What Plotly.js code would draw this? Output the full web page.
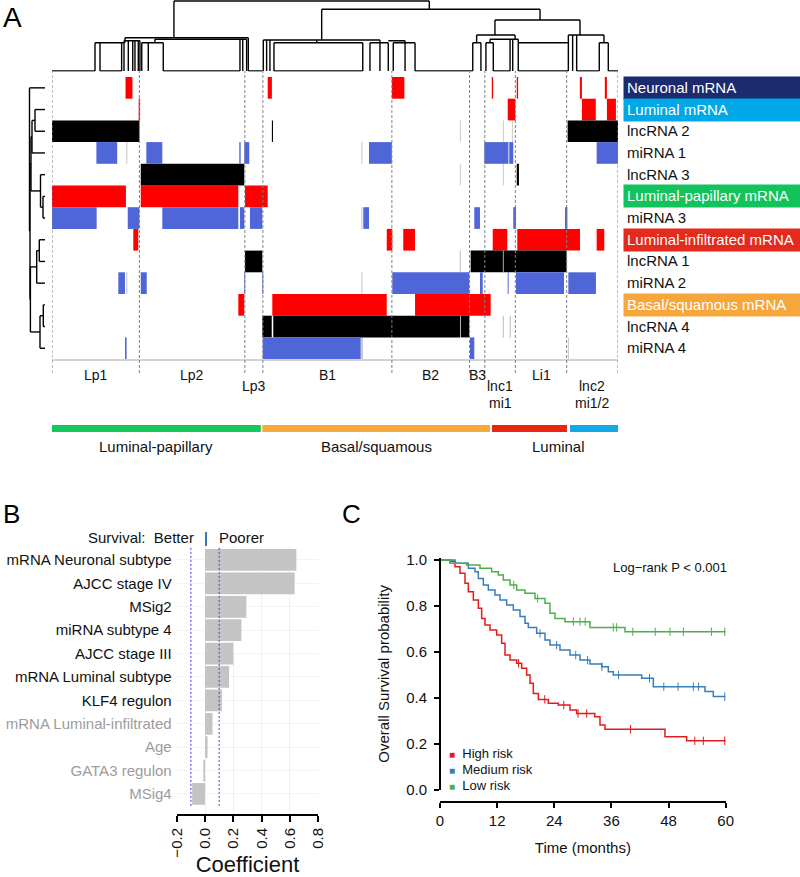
<!DOCTYPE html>
<html><head><meta charset="utf-8">
<script src="https://cdn.plot.ly/plotly-3.0.1.min.js"></script>
<style>html,body{margin:0;padding:0;background:#fff}</style>
</head><body><div id="chart" style="width:800px;height:877px"></div>
<script>
// ================= DATA =================
// ---- Panel A: clustered heatmap ----
const nSamples = 408;
const rowNames = ['Neuronal mRNA','Luminal mRNA','lncRNA 2','miRNA 1','lncRNA 3','Luminal-papillary mRNA','miRNA 3',
  'Luminal-infiltrated mRNA','lncRNA 1','miRNA 2','Basal/squamous mRNA','lncRNA 4','miRNA 4'];
const rowLabelBg = ['#1c2a6e','#00a8e8',null,null,null,'#12c35d',null,'#e4291d',null,null,'#f6a63b',null,null];

// segments: [row index, start sample, end sample]
const redSegments = [
  [0,53,58],[0,155.5,158.5],[0,245,254],[0,317,318],[0,335,336],[0,380.5,382],[0,398.5,400],
  [1,62.5,63.5],[1,328.5,334],[1,382,392],[1,400,406.5],
  [5,0,53.3],[5,64,134.3],[5,139.1,155.5],
  [7,58.6,62.2],[7,241.3,245.3],[7,253.2,261.7],[7,317.7,328.2],[7,335.4,380.6],[7,392.6,398.1],
  [10,134.3,138.6],[10,158.8,241.3],[10,261.7,316.2]
];
const blackSegments = [
  [2,0,63],[2,158.5,159.3],[2,371.7,408],
  [4,64,138.6],[4,335,336.6],
  [8,139.1,151.6],[8,301.8,371],
  [11,151.6,158.4],[11,159.5,294.1],[11,294.6,300.8]
];
const blueSegments = [
  [3,32,47],[3,68,79.5],[3,135,136],[3,138.6,142.2],[3,228.5,245],[3,311.6,329],[3,329.6,332.5],[3,392.6,408],
  [6,0,32.2],[6,54.6,63],[6,79.5,134.3],[6,135.5,138.6],[6,142.7,151.6],[6,224.4,228.5],[6,304.4,308.5],[6,332.5,334.5],[6,369.8,371.5],
  [9,47.8,52.6],[9,64,68.3],[9,138.6,139.3],[9,151.6,152.3],[9,245.3,300.8],[9,308.5,310.5],[9,328.5,329.2],[9,334.5,369.1],[9,372.2,392.1],
  [12,52.6,53.8],[12,151.9,222.5],[12,301.3,304.4]
];
const graySegments = [
  [2,294,294.7],[2,325,325.7],[2,331.5,332.2],
  [3,53.5,54.3],[3,223,223.8],
  [4,294,294.7],[4,325,325.7],
  [6,223,223.8],
  [8,294,294.7],[8,325,325.6],
  [9,53.5,54.3],[9,223,223.8],
  [11,325,325.7],[11,330,330.7],
  [12,222.5,224.2],[12,372,372.7]
];

// clusters
const clusterBoundaries = [0,63,139,152,245,301,312,334,371,408];
const clusterLabel1 = ['Lp1','Lp2','Lp3','B1','B2','B3','lnc1','Li1','lnc2'];
const clusterLabel2 = ['','','','','','','mi1','','mi1/2'];
const clusterLowered = [false,false,true,false,false,false,true,false,true];

// mRNA subtype bar
const subtypeNames = ['Luminal-papillary','Basal/squamous','Luminal-infiltrated','Luminal'];
const subtypeStart = [0,151.6,317.2,373.4];
const subtypeEnd = [150.5,315.7,371.2,408];
const subtypeColors = ['#16c75d','#f8a93c','#e8250f','#13a8e8'];
const subtypeTextGroups = [['Luminal-papillary',0,150.5],['Basal/squamous',151.6,315.7],['Luminal',322,408]];

// column dendrogram segments [x0,h0,x1,h1] (x in samples, h = merge height)
const colDendro = [
  [87.9,70,272.0,70],[87.9,70,87.9,33.3],[272.0,70,272.0,61.7],
  [52.6,33.3,141.5,33.3],[52.6,33.3,52.6,28.3],[31.0,28.3,51.9,28.3],
  [31.0,28.3,31.0,0],[34.6,28.3,34.6,0],[50.2,28.3,50.2,0],
  [51.9,30.3,63.4,30.3],[51.9,30.3,51.9,0],[55.0,30.3,55.0,0],[58.2,30.3,58.2,0],[59.8,30.3,59.8,0],[62.2,30.3,62.2,0],[63.4,30.3,63.4,0],
  [74.2,31.7,140.3,31.7],[74.2,31.7,74.2,28.3],[64.7,28.3,80.2,28.3],
  [64.7,28.3,64.7,0],[69.4,28.3,69.4,0],[80.2,28.3,80.2,0],
  [135.5,31.7,135.5,0],[137.5,31.7,137.5,0],[140.3,31.7,140.3,0],[141.5,33.3,141.5,0],
  [0,0,31.0,0],[34.6,0,50.2,0],[80.2,0,135.5,0],[141.5,0,151.6,0],
  [194.4,61.7,351.8,61.7],[194.4,61.7,194.4,31],
  [152.3,31,236.4,31],[152.3,31,152.3,0],[154.7,31,154.7,0],[157.1,31,157.1,0],
  [160.0,28.3,224.0,28.3],[160.0,28.3,160.0,0],[224.0,28.3,224.0,0],[190.8,31,190.8,28.3],
  [236.4,31,236.4,28.3],[229.2,28.3,242.4,28.3],[229.2,28.3,229.2,0],[236.4,28.3,236.4,0],[242.4,28.3,242.4,0],
  [242.4,30.3,254.5,30.3],[246.0,28.3,261.7,28.3],[246.0,28.3,246.0,0],[254.5,30.3,254.5,0],[261.7,28.3,261.7,0],
  [160.0,0,224.0,0],[261.7,0,301.3,0],
  [351.8,61.7,351.8,51],[319.3,51,380.6,51],[319.3,51,319.3,36],[380.6,51,380.6,36],
  [306.1,36,333.8,36],[306.1,36,306.1,28.3],[303.3,28.3,309.2,28.3],[303.3,28.3,303.3,0],[309.2,28.3,309.2,0],
  [333.8,36,333.8,31.7],[315.7,31.7,336.1,31.7],[315.7,31.7,315.7,28.3],[312.8,28.3,318.1,28.3],
  [312.8,28.3,312.8,0],[318.1,28.3,318.1,0],[330.2,31.7,330.2,0],[332.1,31.7,332.1,0],
  [336.1,31.7,336.1,28.3],[336.1,28.3,372.2,28.3],[336.1,28.3,336.1,0],
  [372.2,36,397.9,36],[372.2,36,372.2,0],[375.3,36,375.3,0],[378.2,36,378.2,0],
  [397.9,36,397.9,28.3],[394.5,28.3,401.0,28.3],[394.5,28.3,394.5,0],[401.0,28.3,401.0,0],
  [301.3,0,303.3,0],[318.1,0,330.2,0],[336.1,0,372.2,0],[378.2,0,394.5,0],[401.0,0,408,0]
];

// row dendrogram segments [d0,row0,d1,row1] (d = merge distance)
const rowDendro = [
  [0,0,15.5,0],
  [0,1,10,1],[0,2,10,2],[10,1,10,2],
  [10,1.5,13,1.5],[0,3,13,3],[13,1.5,13,3],
  [0,5,2,5],[0,6,2,6],[2,5,2,6],
  [0,4,4.5,4],[2,5.5,4.5,5.5],[4.5,4,4.5,5.5],
  [13,2.25,14,2.25],[4.5,4.75,14,4.75],[14,2.25,14,4.75],
  [0,7,5.7,7],[0,8,5.7,8],[5.7,7,5.7,8],
  [5.7,7.5,8.3,7.5],[0,9,8.3,9],[8.3,7.5,8.3,9],
  [0,10,1.7,10],[0,11,1.7,11],[1.7,10,1.7,11],
  [1.7,10.5,5,10.5],[0,12,5,12],[5,10.5,5,12],
  [8.3,8.25,14.6,8.25],[5,11.25,14.6,11.25],[14.6,8.25,14.6,11.25],
  [14,3.5,15,3.5],[14.6,9.75,15,9.75],[15,3.5,15,9.75],
  [15,6.6,15.5,6.6],[15.5,0,15.5,6.6]
];

// ---- Panel B: Cox coefficients ----
const bCategories = ['mRNA Neuronal subtype','AJCC stage IV','MSig2','miRNA subtype 4','AJCC stage III',
  'mRNA Luminal subtype','KLF4 regulon','mRNA Luminal-infiltrated','Age','GATA3 regulon','MSig4'];
const bCoefficients = [0.645,0.633,0.292,0.257,0.2,0.17,0.119,0.053,0.018,-0.012,-0.091];
const bSignificant = [true,true,true,true,true,true,true,false,false,false,false];
const bThreshold = 0.1;
const bTicks = [-0.2,0,0.2,0.4,0.6,0.8];

// ---- Panel C: Kaplan-Meier ----
const highT = [0,2.1,3.15,4.2,5.25,5.95,7,8.05,8.75,9.45,10.5,11.9,12.95,13.65,14.7,16.1,17.15,18.2,18.9,19.6,20.65,22.75,24.85,27.3,28.7,32.5,33.6,34.65,47.25,51.8,60];
const highS = [1,0.993,0.971,0.942,0.899,0.862,0.826,0.79,0.746,0.717,0.696,0.674,0.638,0.587,0.565,0.551,0.529,0.5,0.464,0.42,0.394,0.377,0.37,0.348,0.333,0.319,0.283,0.264,0.232,0.214,0.214];
const highCensor = [16.5,22.0,26.0,29.0,30.8,40.0,53.5,55.3,59.8];
const medT = [0,3.15,5.95,7.35,8.05,9.1,10.15,11.55,12.6,14,15.4,16.8,17.85,18.55,20.3,22.05,23.1,25.2,27.3,29.4,31.5,33.95,35.35,36.4,42.35,44.8,55.65,57.4,60];
const medS = [1,0.986,0.964,0.949,0.92,0.891,0.87,0.848,0.826,0.804,0.783,0.754,0.725,0.707,0.681,0.652,0.63,0.609,0.587,0.565,0.548,0.536,0.514,0.5,0.486,0.449,0.428,0.406,0.406];
const medCensor = [21.0,24.5,28.5,31,34.0,37.5,44.0,47,50,53.2,54.3,59.8];
const lowT = [0,2.1,5.6,8.4,10.85,12.25,13.3,14.7,16.1,17.85,19.95,22.05,23.1,24.15,26.25,31.5,38.85,60];
const lowS = [1,0.986,0.978,0.964,0.949,0.935,0.913,0.891,0.87,0.855,0.833,0.812,0.768,0.746,0.732,0.707,0.688,0.688];
const lowCensor = [15.5,20.5,28,29.4,30.5,36.4,37.1,40.5,45.2,48.3,51.1,57,59.8];
const groupNames = ['High risk','Medium risk','Low risk'];
const groupColors = ['#e41a1c','#377eb8','#4daf4a'];
const kmTicksX = [0,12,24,36,48,60];
const kmTicksY = [0,0.2,0.4,0.6,0.8,1.0];

// ================= BUILD =================
const W = 800, H = 877;
const fx = p => p / W;
const fy = p => 1 - p / H;
const FONT = 'Liberation Sans, Arial, Helvetica, sans-serif';
const TXT = '#111111';

const traces = [];
function segBars(list, color) {
  traces.push({
    type:'bar', orientation:'h', xaxis:'x', yaxis:'y',
    y: list.map(s=>s[0]), base: list.map(s=>s[1]), x: list.map(s=>s[2]-s[1]),
    width: list.map(()=>1), marker:{color:color, line:{width:0}}, hoverinfo:'skip', showlegend:false
  });
}
segBars(graySegments,'#c9c9c9');
segBars(redSegments,'#ff0000');
segBars(blackSegments,'#000000');
segBars(blueSegments,'#4f66d9');
// gray NA lines on top of black blocks
segBars(graySegments.filter(s=>[8,11].includes(s[0])),'#c9c9c9');

function segLines(list, xa, ya) {
  const xs=[], ys=[];
  list.forEach(s=>{ xs.push(s[0],s[2],null); ys.push(s[1],s[3],null); });
  traces.push({type:'scatter', mode:'lines', xaxis:xa, yaxis:ya, x:xs, y:ys,
    line:{color:'#000', width:1.4}, hoverinfo:'skip', showlegend:false, cliponaxis:false});
}
segLines(colDendro,'x','y2');
segLines(rowDendro,'x3','y');

// subtype bar
traces.push({type:'bar', orientation:'h', xaxis:'x', yaxis:'y3',
  y: subtypeStart.map(()=>0), base: subtypeStart, x: subtypeEnd.map((e,i)=>e-subtypeStart[i]),
  width: subtypeStart.map(()=>1), marker:{color:subtypeColors, line:{width:0}}, hoverinfo:'skip', showlegend:false});

// Panel B bars
traces.push({type:'bar', orientation:'h', xaxis:'x4', yaxis:'y4',
  y: bCategories.map((c,i)=>i), x: bCoefficients, width: bCategories.map(()=>0.93),
  marker:{color:'#c4c4c4', line:{width:0}}, hoverinfo:'skip', showlegend:false});
traces.push({type:'scatter', mode:'lines', xaxis:'x4', yaxis:'y4',
  x:[-bThreshold,-bThreshold,null,bThreshold,bThreshold], y:[-0.52,10.56,null,-0.52,10.56],
  line:{color:'#3b3bf0', width:1, dash:'2px,2px'}, hoverinfo:'skip', showlegend:false});

// Panel C KM curves
function survAt(T,S,t){ let v=S[0]; for(let k=0;k<T.length;k++){ if(T[k]<=t) v=S[k]; } return v; }
const kmSets = [[highT,highS,highCensor],[medT,medS,medCensor],[lowT,lowS,lowCensor]];
kmSets.forEach((g,i)=>{
  traces.push({type:'scatter', mode:'lines', xaxis:'x5', yaxis:'y5', x:g[0], y:g[1],
    line:{shape:'hv', color:groupColors[i], width:1.5}, name:groupNames[i], hoverinfo:'skip', showlegend:false});
  traces.push({type:'scatter', mode:'markers', xaxis:'x5', yaxis:'y5', x:g[2], y:g[2].map(t=>survAt(g[0],g[1],t)),
    marker:{symbol:'line-ns', size:6, line:{width:1, color:groupColors[i]}}, hoverinfo:'skip', showlegend:false, cliponaxis:false});
});

// ================= ANNOTATIONS & SHAPES =================
const annotations = [];
const shapes = [];
// panel letters
annotations.push({text:'A', xref:'paper', yref:'paper', x:fx(12), y:fy(17), xanchor:'center', yanchor:'middle', showarrow:false, font:{size:28, color:'#000', family:FONT}});
annotations.push({text:'B', xref:'paper', yref:'paper', x:fx(11), y:fy(514), xanchor:'center', yanchor:'middle', showarrow:false, font:{size:26, color:'#000', family:FONT}});
annotations.push({text:'C', xref:'paper', yref:'paper', x:fx(351), y:fy(514), xanchor:'center', yanchor:'middle', showarrow:false, font:{size:26, color:'#000', family:FONT}});

// row labels
rowNames.forEach((n,i)=>{
  const a = {text:n, xref:'paper', yref:'y', x:fx(623), y:i, xanchor:'left', yanchor:'middle', align:'left',
    showarrow:false, font:{size:15, family:FONT, color: rowLabelBg[i] ? '#ffffff' : TXT},
    width:171, height:15.7, borderpad:3};
  if (rowLabelBg[i]) a.bgcolor = rowLabelBg[i];
  annotations.push(a);
});

// cluster boundaries (dashed)
clusterBoundaries.forEach(b=>{
  shapes.push({type:'line', xref:'x', yref:'paper', x0:b, x1:b, y0:fy(373), y1:fy(71), layer:'above',
    line:{color:'#808080', width:1, dash:'3px,2px'}});
});
// cluster labels
clusterLabel1.forEach((l,i)=>{
  const cx = (clusterBoundaries[i]+clusterBoundaries[i+1])/2;
  const y1 = clusterLowered[i] ? 386 : 375;
  annotations.push({text:l, xref:'x', yref:'paper', x:cx, y:fy(y1), xanchor:'center', yanchor:'middle', showarrow:false, font:{size:14, color:TXT, family:FONT}});
  if (clusterLabel2[i]) annotations.push({text:clusterLabel2[i], xref:'x', yref:'paper', x:cx, y:fy(403), xanchor:'center', yanchor:'middle', showarrow:false, font:{size:14, color:TXT, family:FONT}});
});
// subtype labels
subtypeTextGroups.forEach(g=>{
  annotations.push({text:g[0], xref:'x', yref:'paper', x:(g[1]+g[2])/2, y:fy(447), xanchor:'center', yanchor:'middle', showarrow:false, font:{size:15, color:TXT, family:FONT}});
});

// Panel B header
annotations.push({text:'Survival:\u00a0\u00a0Better', xref:'x4', yref:'paper', x:-0.066, y:fy(537), xanchor:'right', yanchor:'middle', showarrow:false, font:{size:15, color:TXT, family:FONT}});
annotations.push({text:'|', xref:'x4', yref:'paper', x:0.008, y:fy(537), xanchor:'center', yanchor:'middle', showarrow:false, font:{size:15, color:TXT, family:FONT}});
annotations.push({text:'Poorer', xref:'x4', yref:'paper', x:0.086, y:fy(537), xanchor:'left', yanchor:'middle', showarrow:false, font:{size:15, color:TXT, family:FONT}});

// Panel C texts
annotations.push({text:'Log\u2212rank P &lt; 0.001', xref:'paper', yref:'paper', x:fx(729), y:fy(567), xanchor:'right', yanchor:'middle', showarrow:false, font:{size:13, color:TXT, family:FONT}});
groupNames.forEach((g,i)=>{
  annotations.push({text:'<span style="color:'+groupColors[i]+';font-size:10px">\u25A0</span>\u00a0\u00a0'+g,
    xref:'paper', yref:'paper', x:fx(447), y:fy(753+16*i), xanchor:'left', yanchor:'middle', showarrow:false,
    font:{size:13, color:TXT, family:FONT}});
});

const hidden = {showgrid:false, zeroline:false, showticklabels:false, ticks:'', showline:false};

const layout = {
  width:W, height:H, margin:{l:0,r:0,t:0,b:0}, paper_bgcolor:'#fff', plot_bgcolor:'rgba(0,0,0,0)',
  barmode:'overlay', showlegend:false, font:{family:FONT, color:TXT},
  xaxis: Object.assign({}, hidden, {domain:[fx(52),fx(618)], range:[0,nSamples], anchor:'y', showline:true, linecolor:'#d2d2d2', linewidth:2}),
  yaxis: Object.assign({}, hidden, {domain:[fy(359.1),fy(77)], range:[12.5,-0.5], anchor:'x'}),
  yaxis2: Object.assign({}, hidden, {domain:[fy(71.5),1], range:[-0.5,71], anchor:'x'}),
  xaxis3: Object.assign({}, hidden, {domain:[fx(20),fx(52)], range:[25,-7], anchor:'y'}),
  yaxis3: Object.assign({}, hidden, {domain:[fy(432),fy(425)], range:[-0.5,0.5], anchor:'x'}),
  xaxis4: {domain:[fx(176.7),fx(318.3)], range:[-0.2,0.8], anchor:'y4', showline:true, linecolor:'#000', linewidth:2,
    ticks:'outside', ticklen:6, tickwidth:2, tickcolor:'#000', tickvals:bTicks, tickformat:'.1f', tickangle:-90,
    tickfont:{size:15, color:TXT, family:FONT}, showgrid:true, gridcolor:'#f0f0f0', zeroline:false,
    title:{text:'Coefficient', font:{size:22, color:TXT, family:FONT}, standoff:8}},
  yaxis4: {domain:[fy(814),fy(546)], range:[10.855,-0.598], anchor:'x4', showline:false, zeroline:false,
    tickvals: bCategories.map((c,i)=>i),
    ticktext: bCategories.map((c,i)=> bSignificant[i] ? c : '<span style="color:#9c9c9c">'+c+'</span>'),
    ticks:'', ticklabelstandoff:4, tickfont:{size:15, color:TXT, family:FONT}, showgrid:true, gridcolor:'#f3f3f3'},
  xaxis5: {domain:[fx(440),fx(725.7)], range:[0,60], anchor:'free', position:fy(801.7), showline:true, linecolor:'#000', linewidth:2,
    ticks:'outside', ticklen:5, tickwidth:2, tickcolor:'#000', tickvals:kmTicksX, tickfont:{size:15, color:TXT, family:FONT},
    showgrid:false, zeroline:false, title:{text:'Time (months)', font:{size:15, color:TXT, family:FONT}, standoff:14}},
  yaxis5: {domain:[fy(790),fy(557.7)], range:[0,1.01], anchor:'free', position:fx(440), showline:true, linecolor:'#000', linewidth:2,
    ticks:'outside', ticklen:5, tickwidth:2, tickcolor:'#000', tickvals:kmTicksY, tickformat:'.1f', ticklabelstandoff:4,
    tickfont:{size:15, color:TXT, family:FONT}, showgrid:false, zeroline:false,
    title:{text:'Overall Survival probability', font:{size:15, color:TXT, family:FONT}, standoff:12}},
  annotations: annotations,
  shapes: shapes
};

Plotly.newPlot('chart', traces, layout, {displayModeBar:false, staticPlot:true});
</script>
</body></html>
